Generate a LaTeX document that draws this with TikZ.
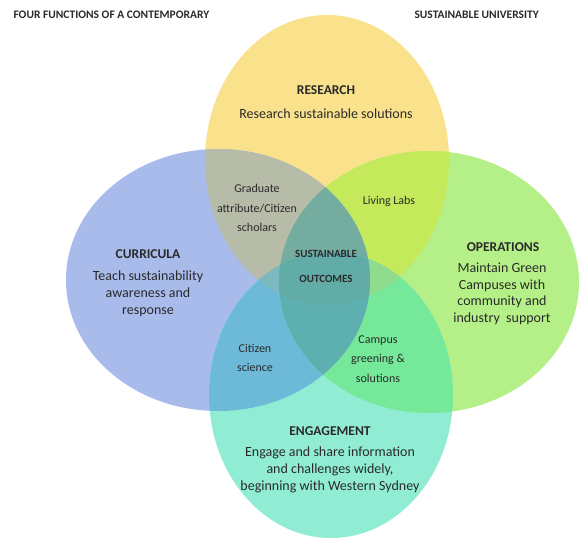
\documentclass[tikz,border=0pt]{standalone}
\usepackage{fontspec}
\setmainfont{Carlito}
\usepackage{tikz}
\definecolor{researchYellow}{HTML}{FAE28C}
\definecolor{curriculaBlue}{HTML}{A8BBEB}
\definecolor{operationsGreen}{HTML}{B4F087}
\definecolor{engagementTeal}{HTML}{91ECD4}
\definecolor{mixYB}{HTML}{B7BCA9}
\definecolor{mixYG}{HTML}{C4EA5C}
\definecolor{mixBT}{HTML}{6DBAD8}
\definecolor{mixGT}{HTML}{76E89A}
\definecolor{mixBG}{HTML}{7FB8B0}
\definecolor{mixYT}{HTML}{9CD3B0}
\definecolor{mixYBG}{HTML}{74ADA0}
\definecolor{mixYBT}{HTML}{7FB9C0}
\definecolor{mixYGT}{HTML}{8EDC8C}
\definecolor{mixBGT}{HTML}{5EAFB0}
\definecolor{mixAll}{HTML}{62ACA8}
\definecolor{textGrey}{HTML}{2A2A2A}
\newcommand{\researchShape}{(327,160) ellipse [x radius=122pt, y radius=145pt]}
\newcommand{\curriculaShape}{(218,280) ellipse [x radius=152pt, y radius=131pt]}
\newcommand{\operationsShape}{(429,282) ellipse [x radius=150pt, y radius=131pt]}
\newcommand{\engagementShape}{(331,395) ellipse [x radius=122pt, y radius=143pt]}

\begin{document}
\begin{tikzpicture}[
    x=1pt, y=-1pt,
    title/.style={anchor=west, font=\bfseries\fontsize{11.5}{13}\selectfont, text=textGrey},
    head/.style={font=\bfseries\fontsize{13.5}{15}\selectfont, text=textGrey},
    body/.style={align=center, font=\fontsize{14}{17}\selectfont, text=textGrey},
    overlap/.style={align=center, font=\fontsize{12}{19.5}\selectfont, text=textGrey},
]
    \useasboundingbox (0,0) rectangle (581,538);

    % the four functions
    \fill[researchYellow] \researchShape;
    \fill[curriculaBlue] \curriculaShape;
    \fill[operationsGreen] \operationsShape;
    \fill[engagementTeal] \engagementShape;

    % where two meet
    \foreach \a/\b/\c in {\researchShape/\curriculaShape/mixYB, \researchShape/\operationsShape/mixYG,
        \researchShape/\engagementShape/mixYT, \curriculaShape/\operationsShape/mixBG,
        \curriculaShape/\engagementShape/mixBT, \operationsShape/\engagementShape/mixGT}{
        \begin{scope}
            \clip \a;
            \fill[\c] \b;
        \end{scope}
    }
    % where three meet
    \foreach \a/\b/\c/\d in {\researchShape/\curriculaShape/\operationsShape/mixYBG,
        \researchShape/\curriculaShape/\engagementShape/mixYBT,
        \researchShape/\operationsShape/\engagementShape/mixYGT,
        \curriculaShape/\operationsShape/\engagementShape/mixBGT}{
        \begin{scope}
            \clip \a;
            \clip \b;
            \fill[\d] \c;
        \end{scope}
    }
    \begin{scope}
        \clip \researchShape;
        \clip \curriculaShape;
        \clip \operationsShape;
        \fill[mixAll] \engagementShape;
    \end{scope}

    \node[title] (titleLeft) at (10,15) {FOUR FUNCTIONS OF A CONTEMPORARY};
    \node[title] (titleRight) at (411,15) {SUSTAINABLE UNIVERSITY};

    \node[head] (researchHead) at (326,90) {RESEARCH};
    \node[body] (researchBody) at (326,114) {Research sustainable solutions};
    \node[head] (curriculaHead) at (148,254) {CURRICULA};
    \node[body] (curriculaBody) at (148,294) {Teach sustainability\\awareness and\\response};
    \node[head] (operationsHead) at (503,247) {OPERATIONS};
    \node[body, font=\fontsize{14}{16.5}\selectfont] (operationsBody) at (502,294) {Maintain Green\\Campuses with\\community and\\industry\ \ support};
    \node[head] (engagementHead) at (330,431) {ENGAGEMENT};
    \node[body] (engagementBody) at (330,470) {Engage and share information\\and challenges widely,\\beginning with Western Sydney};

    \node[overlap] (graduate) at (257,208) {Graduate\\attribute/Citizen\\scholars};
    \node[overlap] (livingLabs) at (389,201) {Living Labs};
    \node[overlap, font=\bfseries\fontsize{11}{25}\selectfont] (outcomes) at (326,266) {SUSTAINABLE\\OUTCOMES};
    \node[overlap] (citizenScience) at (255,358) {Citizen\\science};
    \node[overlap] (campusGreening) at (378,359) {Campus\\greening \&\\solutions};
\end{tikzpicture}
\end{document}
